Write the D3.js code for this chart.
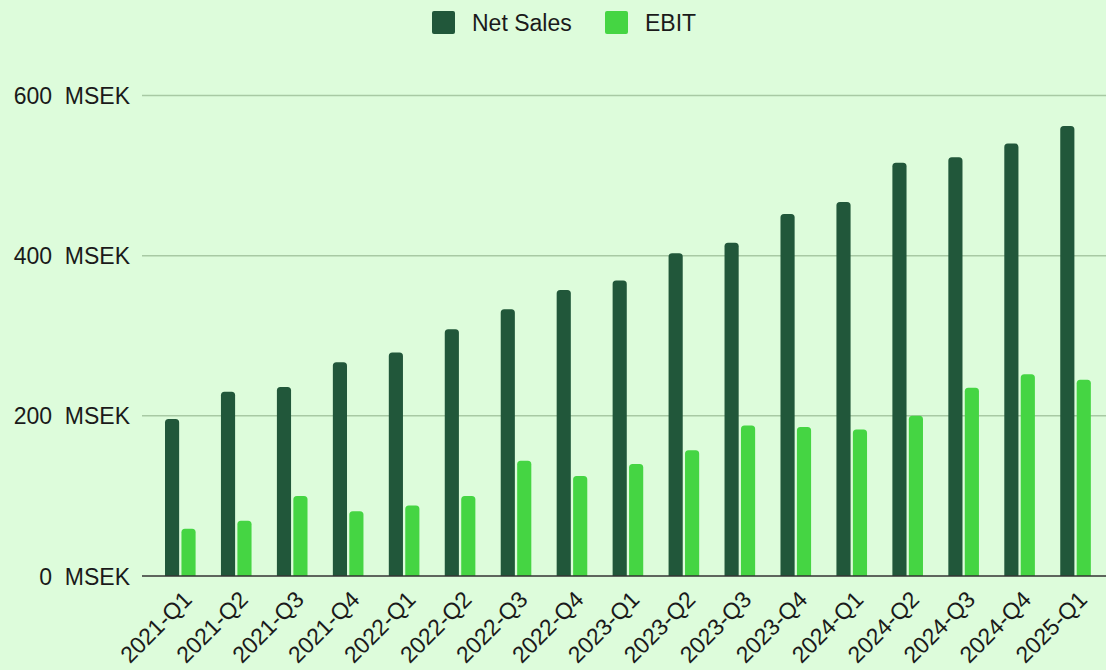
<!DOCTYPE html>
<html>
<head>
<meta charset="utf-8">
<script src="https://cdn.jsdelivr.net/npm/d3@7"></script>
<style>
  html, body { margin: 0; padding: 0; background: #ddfcdb; }
  svg { display: block; }
  text { font-family: "Liberation Sans", Arial, sans-serif; fill: #1a1a1a; }
</style>
</head>
<body>
<svg id="chart" width="1106" height="670"></svg>
<script>
const categories = ["2021-Q1","2021-Q2","2021-Q3","2021-Q4","2022-Q1","2022-Q2","2022-Q3","2022-Q4","2023-Q1","2023-Q2","2023-Q3","2023-Q4","2024-Q1","2024-Q2","2024-Q3","2024-Q4","2025-Q1"];
const netSales = [196, 230, 236, 267, 279, 308, 333, 357, 369, 403, 416, 452, 467, 516, 523, 540, 562];
const ebit = [59, 69, 100, 81, 88, 100, 144, 125, 140, 157, 188, 186, 183, 200, 235, 252, 245];
const seriesNames = ["Net Sales", "EBIT"];
const seriesColors = ["#21573a", "#45d543"];
const yTicks = [0, 200, 400, 600];

const svg = d3.select("#chart");
const W = 1106, H = 670;

const x0 = d3.scaleBand().domain(categories).range([152.3, 1103.5]).paddingInner(0).paddingOuter(0);
const x1 = d3.scaleBand().domain(seriesNames).range([12.7, 43.3]).paddingInner(0.14);
const y = d3.scaleLinear().domain([0, 600]).range([576, 95.5]);
const color = d3.scaleOrdinal().domain(seriesNames).range(seriesColors);

// y axis labels
const yAxis = d3.axisLeft(y).tickValues(yTicks).tickSize(0).tickFormat(d => d + "\u00a0\u00a0MSEK");
const gy = svg.append("g").attr("transform", "translate(130,0)").call(yAxis);
gy.select(".domain").remove();
gy.selectAll("text").attr("x", 0).attr("dy", "0.35em").style("font-size", "23px").style("font-family", "'Liberation Sans', Arial, sans-serif").attr("fill", "#1a1a1a");

// gridlines
svg.append("g").selectAll("line").data(yTicks.filter(d => d !== 0)).join("line")
  .attr("x1", 142).attr("x2", W)
  .attr("y1", d => y(d)).attr("y2", d => y(d))
  .attr("stroke", "#a8c9a4").attr("stroke-width", 1.5);

// bars
const rows = categories.map((c, i) => ({cat: c, vals: [{k: "Net Sales", v: netSales[i]}, {k: "EBIT", v: ebit[i]}]}));
function topRounded(x, yTop, w, yBot, r) {
  r = Math.min(r, w / 2, (yBot - yTop));
  return `M${x},${yBot}V${yTop + r}Q${x},${yTop} ${x + r},${yTop}H${x + w - r}Q${x + w},${yTop} ${x + w},${yTop + r}V${yBot}Z`;
}
svg.append("g").selectAll("g").data(rows).join("g")
  .attr("transform", d => `translate(${x0(d.cat)},0)`)
  .selectAll("path").data(d => d.vals).join("path")
  .attr("d", d => topRounded(x1(d.k), y(d.v), x1.bandwidth(), y(0), 3.5))
  .attr("fill", d => color(d.k));

// baseline
svg.append("line").attr("x1", 142).attr("x2", W).attr("y1", y(0)).attr("y2", y(0))
  .attr("stroke", "#333").attr("stroke-width", 1.5);

// x axis labels
const xAxis = d3.axisBottom(x0).tickSize(0);
const gx = svg.append("g").attr("transform", `translate(0,${y(0)})`).call(xAxis);
gx.select(".domain").remove();
gx.selectAll("text")
  .style("font-size", "23px").style("font-family", "'Liberation Sans', Arial, sans-serif").attr("fill", "#1a1a1a")
  .attr("text-anchor", "end")
  .attr("dy", "0")
  .attr("y", 0)
  .attr("transform", "translate(13,25) rotate(-45)");

// legend
const legendItems = [{name: "Net Sales", x: 432}, {name: "EBIT", x: 605}];
const lg = svg.append("g");
legendItems.forEach(it => {
  lg.append("rect").attr("x", it.x).attr("y", 11).attr("width", 23).attr("height", 23).attr("rx", 2)
    .attr("fill", color(it.name));
  lg.append("text").attr("x", it.x + 40).attr("y", 22.5).attr("dy", "0.35em")
    .style("font-size", "23px").text(it.name);
});
</script>
</body>
</html>
